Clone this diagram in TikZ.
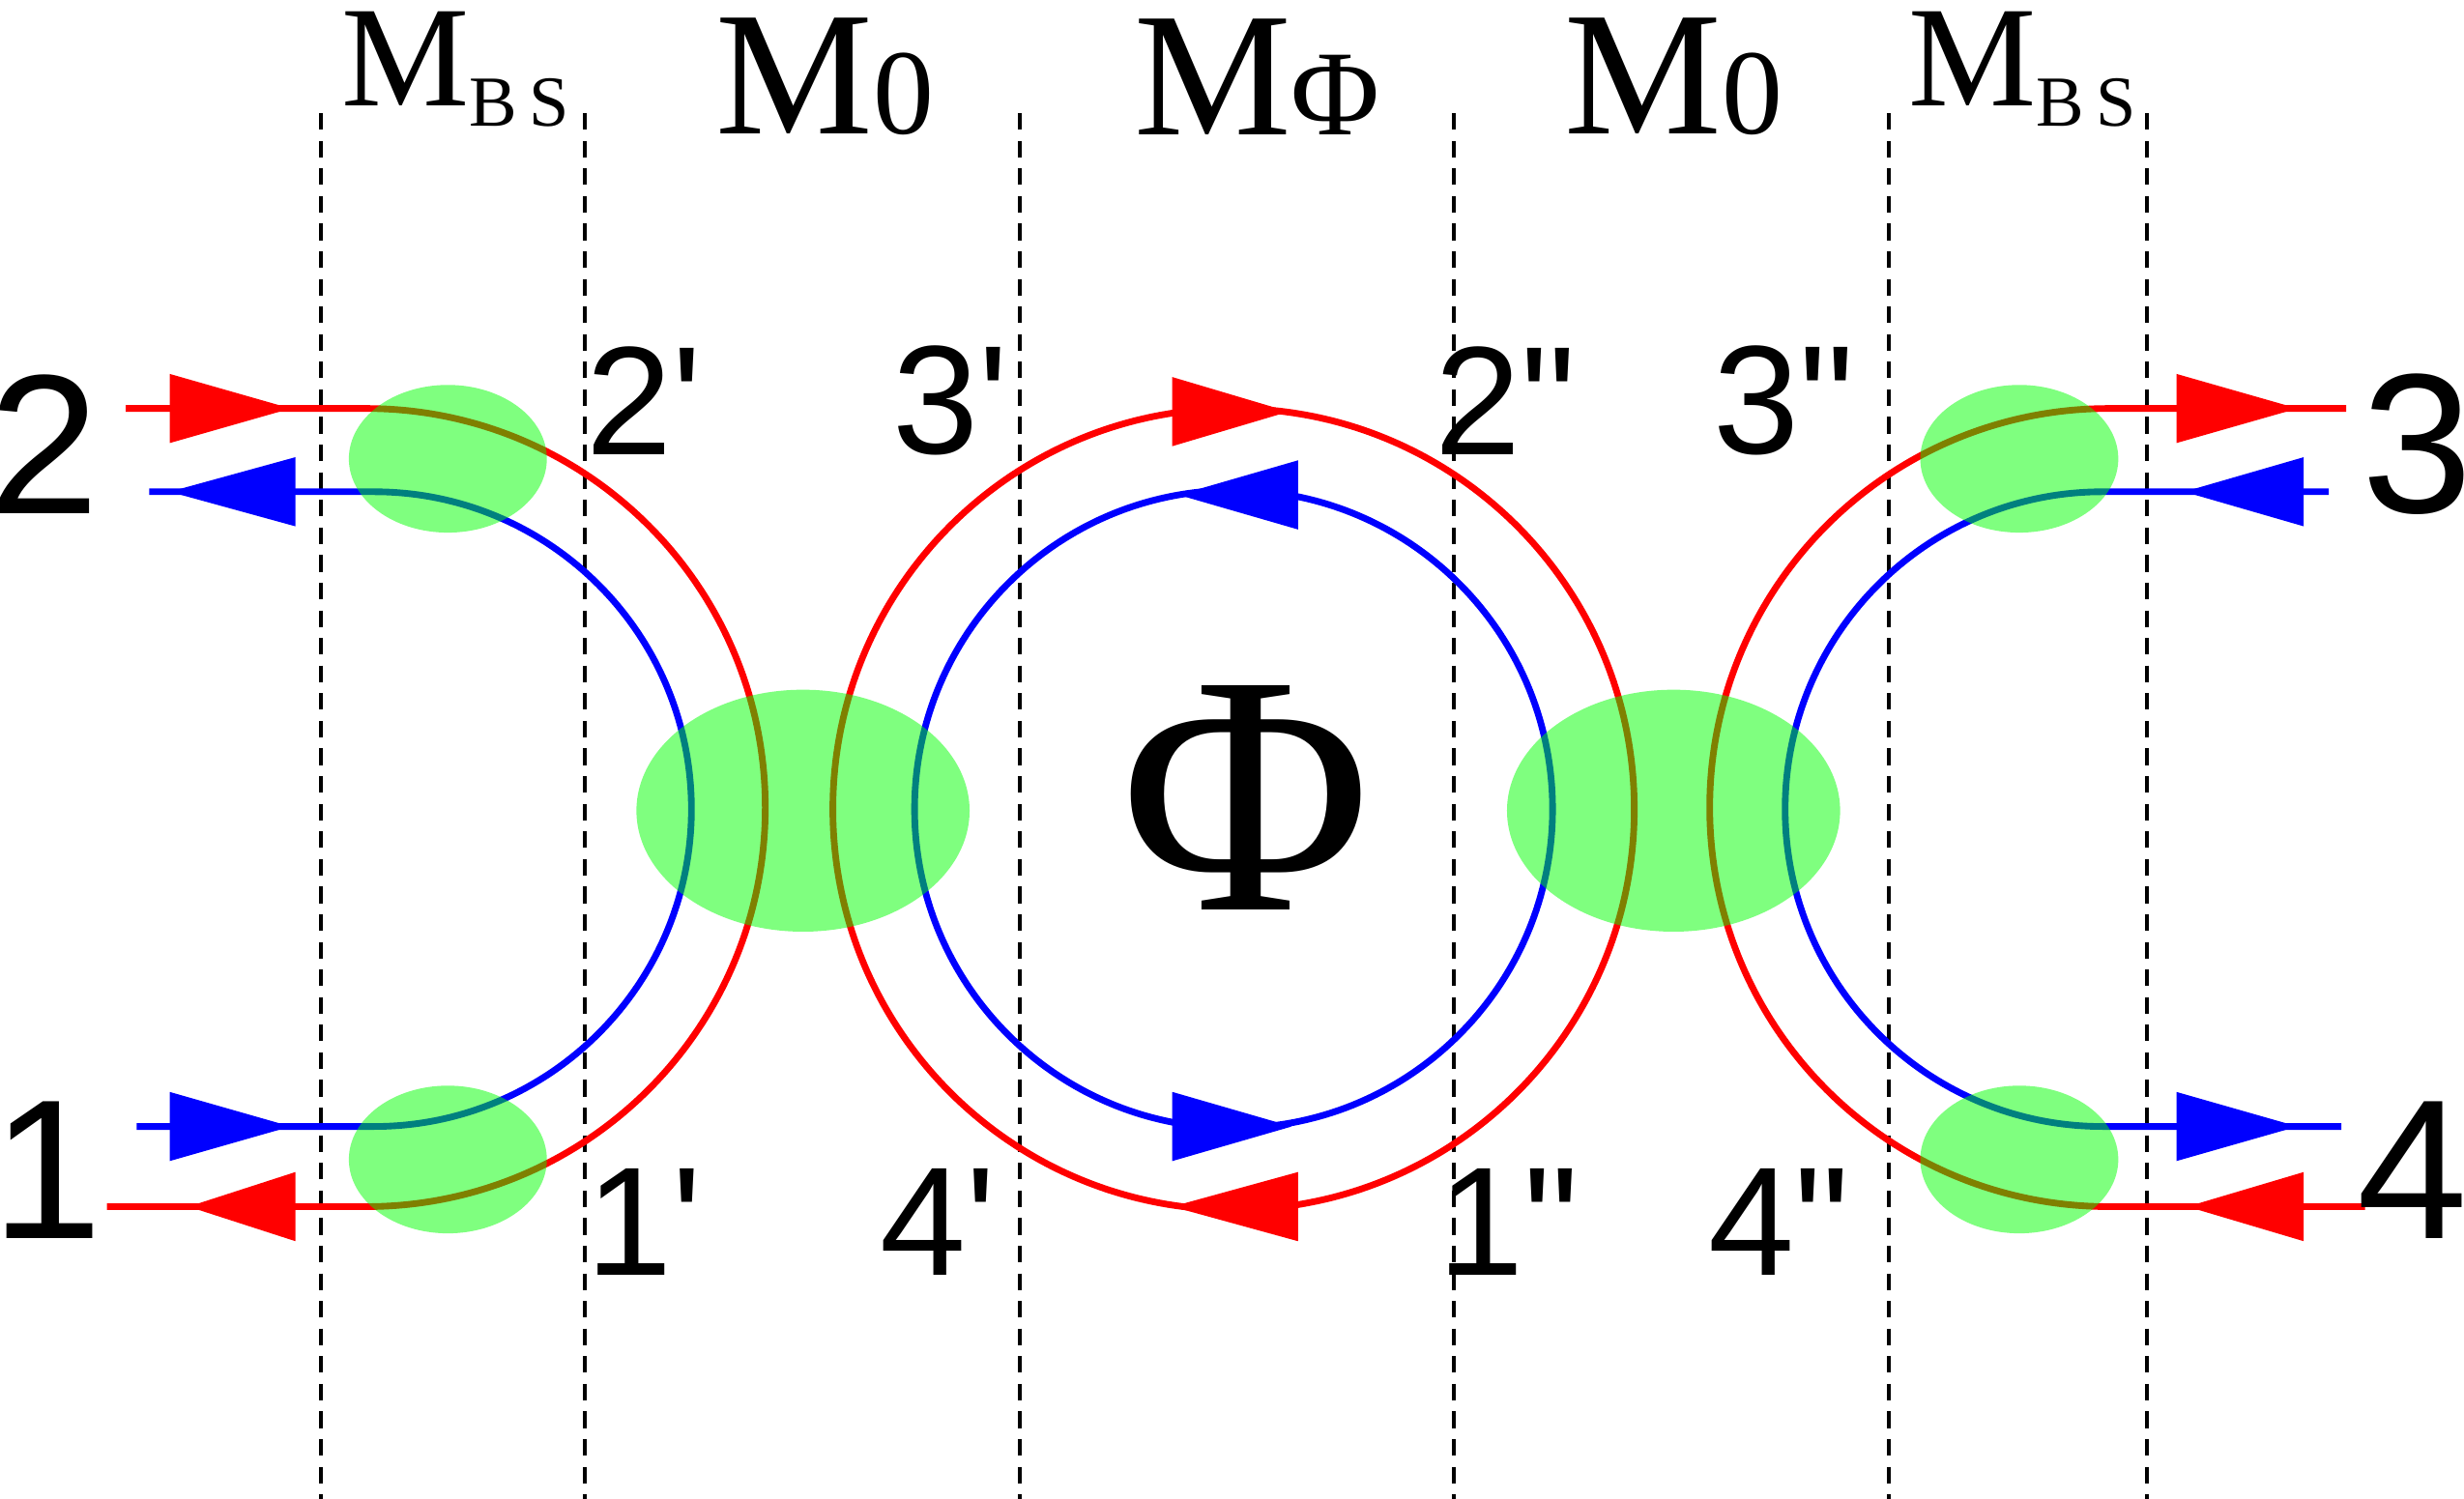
\documentclass[tikz,border=0pt]{standalone}
\usepackage{fontspec}
\setmainfont{Liberation Serif}
\newfontfamily\lsans{Liberation Sans}
\begin{document}
\begin{tikzpicture}[x=0.01cm,y=0.01cm,
  dline/.style={black,dash pattern=on 3pt off 2pt,line width=0.7pt},
  rline/.style={red,line width=1.2pt},
  bline/.style={blue,line width=1.2pt},
  glob/.style={green,fill opacity=0.5},
  big/.style={font=\lsans\fontsize{36}{40}\selectfont},
  port/.style={font=\lsans\fontsize{28}{32}\selectfont},
  mlab/.style={font=\fontsize{32}{36}\selectfont},
  mbs/.style={font=\fontsize{26}{30}\selectfont}]
\useasboundingbox (0,0) rectangle (1568,954);
\newcommand{\tri}[4]{\fill[#4] (#1,#3+22) -- (#1,#3-22) -- (#2,#3) -- cycle;}
% dashed lines
\foreach \x in {204,372,649,925,1202,1366} \draw[dline] (\x,882) -- (\x,0);
% left
\draw[rline] (80,694) -- (233,694) arc[start angle=90,end angle=-90,radius=254] -- (68,186);
\draw[bline] (95,641) -- (238,641) arc[start angle=90,end angle=-90,radius=202] -- (87,237);
% right
\draw[rline] (1493,694) -- (1342,694) arc[start angle=90,end angle=270,radius=254] -- (1505,186);
\draw[bline] (1482,641) -- (1338,641) arc[start angle=90,end angle=270,radius=202] -- (1490,237);
% middle
\coordinate (mc) at (785,439);
\draw[rline] (mc) circle[radius=255];
\draw[bline] (mc) circle[radius=203];
% arrows
\tri{108}{185}{694}{red}
\tri{188}{108}{641}{blue}
\tri{108}{185}{237}{blue}
\tri{188}{120}{186}{red}
\tri{746}{820}{692}{red}
\tri{826}{750}{639}{blue}
\tri{746}{822}{237}{blue}
\tri{826}{746}{186}{red}
\tri{1385}{1462}{694}{red}
\tri{1466}{1390}{641}{blue}
\tri{1385}{1462}{237}{blue}
\tri{1466}{1392}{186}{red}
% green couplers
\fill[glob] (285,662) ellipse[x radius=63,y radius=47];
\fill[glob] (285,216) ellipse[x radius=63,y radius=47];
\fill[glob] (1285,662) ellipse[x radius=63,y radius=47];
\fill[glob] (1285,216) ellipse[x radius=63,y radius=47];
\fill[glob] (511,438) ellipse[x radius=106,y radius=77];
\fill[glob] (1065,438) ellipse[x radius=106,y radius=77];
% labels
\node[big] (p2) at (28,671) {2};
\node[big] (p1) at (30,209) {1};
\node[big] (p3) at (1538,671) {3};
\node[big] (p4) at (1535,209) {4};
\node[port] (a2) at (410,699) {2'};
\node[port] (a3) at (605,699) {3'};
\node[port] (b2) at (958,699) {2"};
\node[port] (b3) at (1135,699) {3"};
\node[port] (a1) at (410,176) {1'};
\node[port] (a4) at (597,176) {4'};
\node[port] (b1) at (960,176) {1"};
\node[port] (b4) at (1132,176) {4"};
\node[font=\fontsize{62}{66}\selectfont] (phi) at (793,446) {Φ};
\node[mbs] (mbs1) at (290,910) {M\raisebox{-0.3ex}{\fontsize{13}{15}\selectfont B\,S}};
\node[mbs] (mbs2) at (1287,910) {M\raisebox{-0.3ex}{\fontsize{13}{15}\selectfont B\,S}};
\node[mlab] (m01) at (525,905) {M{\fontsize{22}{24}\selectfont 0}};
\node[mlab] (mp) at (800,905) {M{\fontsize{22}{24}\selectfont Φ}};
\node[mlab] (m02) at (1065,905) {M{\fontsize{22}{24}\selectfont 0}};
\end{tikzpicture}
\end{document}
